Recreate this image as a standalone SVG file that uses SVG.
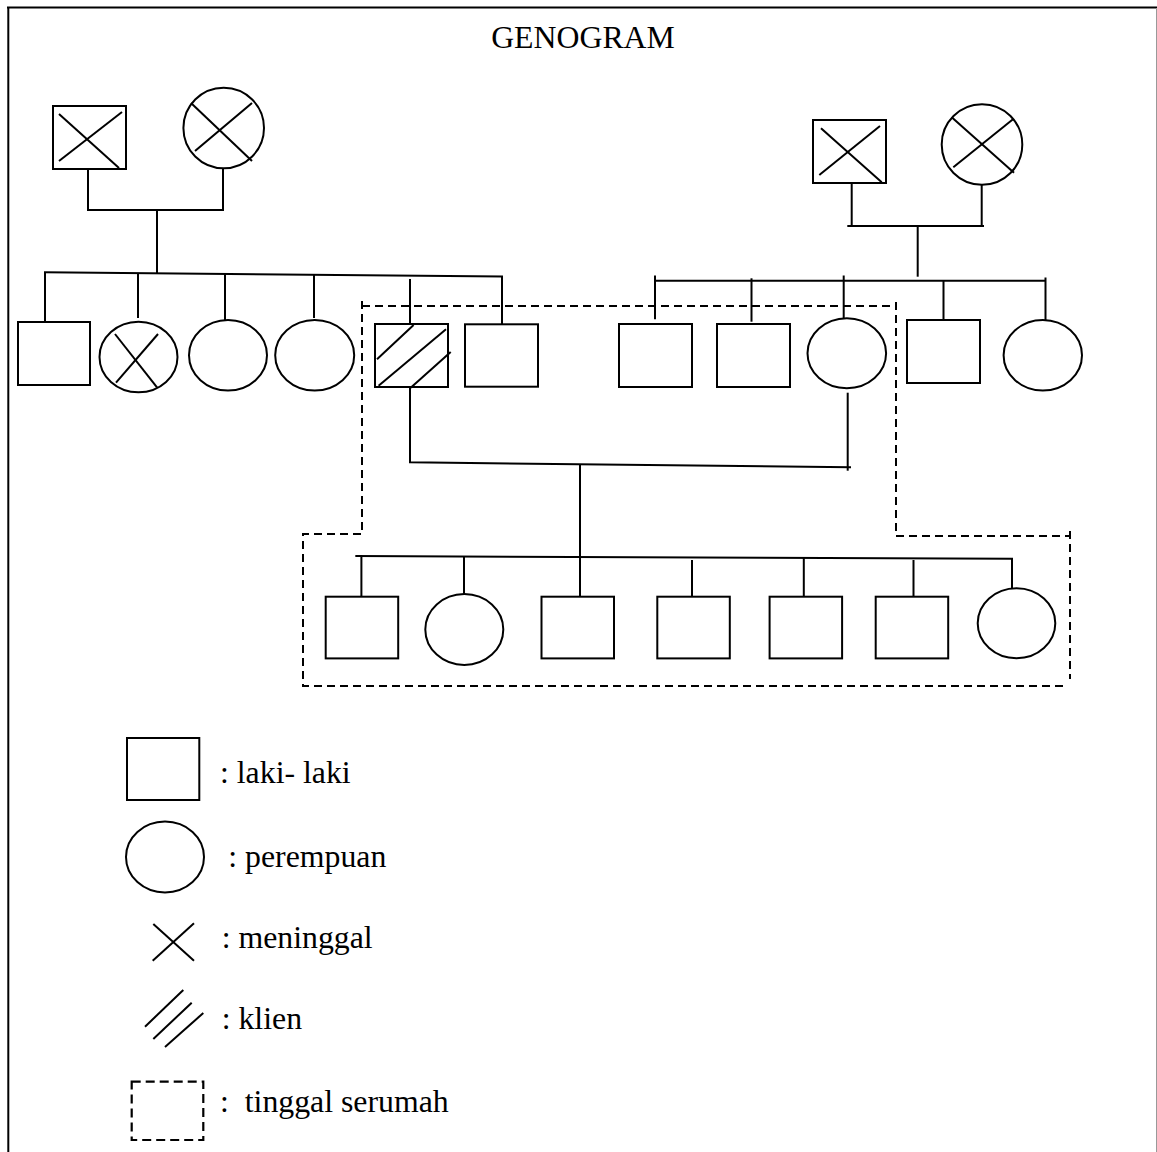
<svg xmlns="http://www.w3.org/2000/svg" width="1157" height="1152" viewBox="0 0 1157 1152">
<style>
  .s { fill: #fff; stroke: #000; stroke-width: 2; }
  .l { fill: none; stroke: #000; stroke-width: 2; }
  .d { fill: none; stroke: #000; stroke-width: 2; stroke-dasharray: 8 5; }
  .dl { fill: none; stroke: #000; stroke-width: 2.2; stroke-dasharray: 9 5; }
  .t { font-family: "Liberation Serif", "Times New Roman", serif; font-size: 31.8px; fill: #000; }
</style>
<rect x="0" y="0" width="1157" height="1152" fill="#fff"/>
<g id="frame">
  <line x1="7" y1="7.5" x2="1157" y2="7.5" stroke="#000" stroke-width="2.2"/>
  <line x1="8.3" y1="7" x2="8.3" y2="1152" stroke="#000" stroke-width="2"/>
  <line x1="1156.5" y1="8" x2="1156.5" y2="1152" stroke="#999" stroke-width="1"/>
</g>
<text class="t" x="583" y="48.3" text-anchor="middle" font-size="31.8">GENOGRAM</text>

<g id="connectors">
  <!-- left grandparents -->
  <polyline class="l" points="88,169 88,210 223,210 223,168"/>
  <line class="l" x1="157" y1="210" x2="157" y2="273"/>
  <line class="l" x1="44" y1="272.3" x2="503" y2="276.5"/>
  <line class="l" x1="45" y1="272" x2="45" y2="322"/>
  <line class="l" x1="138" y1="273" x2="138" y2="318"/>
  <line class="l" x1="225" y1="274" x2="225" y2="320"/>
  <line class="l" x1="314" y1="275" x2="314" y2="318"/>
  <line class="l" x1="410" y1="279" x2="410" y2="324"/>
  <line class="l" x1="502" y1="276" x2="502" y2="324"/>
  <!-- right grandparents -->
  <line class="l" x1="851.7" y1="183" x2="851.7" y2="226"/>
  <line class="l" x1="981.7" y1="185" x2="981.7" y2="226"/>
  <line class="l" x1="847.3" y1="226" x2="984" y2="226"/>
  <line class="l" x1="917.7" y1="226" x2="917.7" y2="276.7"/>
  <line class="l" x1="655" y1="280.7" x2="1046" y2="280.7"/>
  <line class="l" x1="655" y1="275.5" x2="655" y2="319.3"/>
  <line class="l" x1="751.5" y1="278.3" x2="751.5" y2="321.7"/>
  <line class="l" x1="843.7" y1="275.5" x2="843.7" y2="318.3"/>
  <line class="l" x1="943.5" y1="281" x2="943.5" y2="320"/>
  <line class="l" x1="1045.5" y1="277.5" x2="1045.5" y2="320.5"/>
  <!-- marriage -->
  <polyline class="l" points="410,385 410,462.3 851,467.3"/>
  <line class="l" x1="847.7" y1="392.7" x2="847.7" y2="470.7"/>
  <line class="l" x1="580" y1="465" x2="580" y2="596.7"/>
  <!-- children -->
  <line class="l" x1="355.3" y1="556" x2="1013" y2="558.7"/>
  <line class="l" x1="361.4" y1="556" x2="361.4" y2="596.7"/>
  <line class="l" x1="464" y1="556.5" x2="464" y2="594"/>
  <line class="l" x1="692" y1="560" x2="692" y2="596.7"/>
  <line class="l" x1="803.8" y1="557.5" x2="803.8" y2="596.7"/>
  <line class="l" x1="913.5" y1="560" x2="913.5" y2="596.7"/>
  <line class="l" x1="1012" y1="558.7" x2="1012" y2="588.3"/>
  <!-- household boundary -->
  <path class="d" d="M362,301 V534 H303 V686 H1066 M362,306 H896 M896,302 V536 H1070 M1070,531 V679"/>
</g>

<g id="gf-left">
  <rect class="s" x="53" y="106" width="73" height="63"/>
  <line class="l" x1="59" y1="114" x2="119" y2="168"/>
  <line class="l" x1="59" y1="161" x2="122" y2="112"/>
</g>
<g id="gm-left">
  <circle class="s" cx="223.7" cy="128" r="40.3"/>
  <line class="l" x1="191" y1="103" x2="252" y2="161"/>
  <line class="l" x1="195" y1="151" x2="252" y2="103"/>
</g>
<g id="gf-right">
  <rect class="s" x="813" y="120" width="73" height="63"/>
  <line class="l" x1="821" y1="128.3" x2="881.7" y2="182.3"/>
  <line class="l" x1="819.3" y1="175" x2="880" y2="126"/>
</g>
<g id="gm-right">
  <circle class="s" cx="982" cy="144.5" r="40.3"/>
  <line class="l" x1="951.7" y1="117.3" x2="1014" y2="172.7"/>
  <line class="l" x1="953.3" y1="167.3" x2="1013.3" y2="119"/>
</g>

<g id="left-sib-1"><rect class="s" x="18" y="322" width="72" height="63"/></g>
<g id="left-sib-2">
  <ellipse class="s" cx="138.5" cy="357" rx="39" ry="35.3"/>
  <line class="l" x1="115" y1="334" x2="157" y2="387.3"/>
  <line class="l" x1="116" y1="382.7" x2="158" y2="334"/>
</g>
<g id="left-sib-3"><ellipse class="s" cx="228" cy="355.3" rx="39" ry="35.3"/></g>
<g id="left-sib-4"><ellipse class="s" cx="314.7" cy="355.3" rx="39.5" ry="35.3"/></g>
<g id="client">
  <rect class="s" x="375" y="324" width="73" height="63"/>
  <line class="l" x1="377" y1="359.3" x2="413.6" y2="325"/>
  <line class="l" x1="378.6" y1="385.7" x2="446" y2="329.3"/>
  <line class="l" x1="410.7" y1="387.7" x2="450.7" y2="352"/>
</g>
<g id="left-sib-6"><rect class="s" x="465" y="324.3" width="73" height="62.4"/></g>

<g id="right-sib-1"><rect class="s" x="619" y="324" width="73" height="63"/></g>
<g id="right-sib-2"><rect class="s" x="717" y="324" width="73" height="63"/></g>
<g id="spouse"><ellipse class="s" cx="846.8" cy="353.3" rx="39.3" ry="35"/></g>
<g id="right-sib-4"><rect class="s" x="907" y="320" width="73" height="63"/></g>
<g id="right-sib-5"><ellipse class="s" cx="1042.8" cy="355.3" rx="39.2" ry="35.3"/></g>

<g id="child-1"><rect class="s" x="325.7" y="596.7" width="72.5" height="61.7"/></g>
<g id="child-2"><ellipse class="s" cx="464.3" cy="629.5" rx="39" ry="35.5"/></g>
<g id="child-3"><rect class="s" x="541.5" y="596.7" width="72.5" height="61.7"/></g>
<g id="child-4"><rect class="s" x="657.3" y="596.7" width="72.5" height="61.7"/></g>
<g id="child-5"><rect class="s" x="769.6" y="596.7" width="72.5" height="61.7"/></g>
<g id="child-6"><rect class="s" x="875.7" y="596.7" width="72.5" height="61.7"/></g>
<g id="child-7"><ellipse class="s" cx="1016.5" cy="623.3" rx="38.8" ry="35"/></g>

<g id="legend-male">
  <rect class="s" x="127" y="738" width="72.3" height="62"/>
  <text class="t" x="220" y="783.3">: laki- laki</text>
</g>
<g id="legend-female">
  <ellipse class="s" cx="165" cy="857" rx="39" ry="35.5"/>
  <text class="t" x="228.3" y="866.7">: perempuan</text>
</g>
<g id="legend-deceased">
  <line class="l" x1="152.7" y1="960.7" x2="194" y2="923.3"/>
  <line class="l" x1="153.3" y1="924" x2="194" y2="960.7"/>
  <text class="t" x="221.7" y="948">: meninggal</text>
</g>
<g id="legend-client">
  <line class="l" x1="145" y1="1026.7" x2="183.3" y2="990"/>
  <line class="l" x1="153.3" y1="1039" x2="191.7" y2="1002.7"/>
  <line class="l" x1="165" y1="1047" x2="203.3" y2="1013"/>
  <text class="t" x="221.7" y="1029">: klien</text>
</g>
<g id="legend-household">
  <rect class="dl" x="131.7" y="1081.7" width="71.6" height="58.3"/>
  <text class="t" x="220" y="1111.7" xml:space="preserve">:  tinggal serumah</text>
</g>
</svg>
